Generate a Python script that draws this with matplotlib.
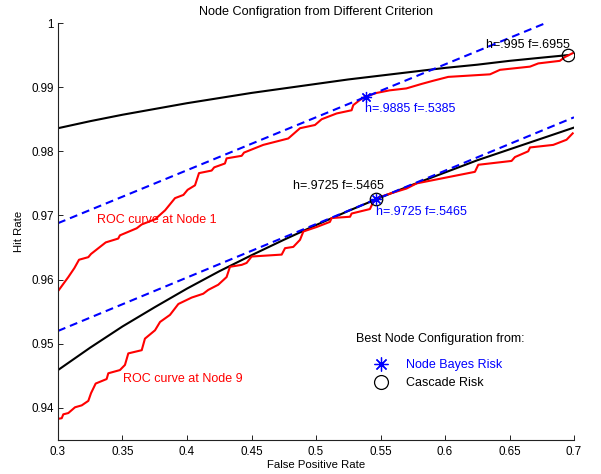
import matplotlib
matplotlib.use("Agg")
import matplotlib.pyplot as plt
from matplotlib.lines import Line2D
from matplotlib.ticker import FuncFormatter

plt.rcParams['font.family'] = ['Liberation Sans', 'DejaVu Sans']

# ROC curve at Node 1 (false positive rate, hit rate)
roc1_f = [0.300, 0.308, 0.3127, 0.3163, 0.3235, 0.3256, 0.3313, 0.337, 0.3467, 0.348,
          0.361, 0.3649, 0.3752, 0.383, 0.3907, 0.3972, 0.4005, 0.4062, 0.4093, 0.4191,
          0.4211, 0.4294, 0.4307, 0.4424, 0.4442, 0.4591, 0.4785, 0.4876, 0.4992, 0.5044,
          0.516, 0.5276, 0.5289, 0.534, 0.538, 0.547, 0.557, 0.570, 0.5818, 0.5909,
          0.6025, 0.6349, 0.6426, 0.6659, 0.6723, 0.689, 0.693, 0.699]
roc1_h = [0.9582, 0.9604, 0.9618, 0.9631, 0.9635, 0.9640, 0.9649, 0.9658, 0.9664, 0.9669,
          0.9680, 0.9686, 0.9694, 0.9708, 0.9727, 0.9732, 0.9740, 0.9747, 0.9766, 0.9770,
          0.9775, 0.9781, 0.9789, 0.9793, 0.9798, 0.9810, 0.9820, 0.9836, 0.9841, 0.9850,
          0.9859, 0.9864, 0.9872, 0.9880, 0.9885, 0.9891, 0.9895, 0.9898, 0.9905, 0.9910,
          0.9916, 0.9920, 0.9927, 0.9932, 0.9937, 0.9941, 0.9947, 0.9953]

# ROC curve at Node 9
roc9_f = [0.300, 0.3029, 0.3041, 0.308, 0.3132, 0.3184, 0.3235, 0.3256, 0.3292, 0.3377,
          0.339, 0.348, 0.3519, 0.3545, 0.3649, 0.3674, 0.3752, 0.3791, 0.3868, 0.3933,
          0.4036, 0.4126, 0.4165, 0.4242, 0.4307, 0.4333, 0.4424, 0.4462, 0.4501, 0.4734,
          0.476, 0.4824, 0.4876, 0.4902, 0.5005, 0.5108, 0.5121, 0.5264, 0.5276, 0.5418,
          0.5444, 0.547, 0.5573, 0.5702, 0.578, 0.6232, 0.6258, 0.6516, 0.6542, 0.6645,
          0.6659, 0.6839, 0.6942, 0.699]
roc9_h = [0.9383, 0.9384, 0.9390, 0.9392, 0.9401, 0.9404, 0.9411, 0.9423, 0.9438, 0.9445,
          0.9454, 0.9459, 0.9467, 0.9485, 0.9490, 0.9508, 0.9521, 0.9534, 0.9545, 0.9562,
          0.9572, 0.9578, 0.9584, 0.9592, 0.9604, 0.9620, 0.9623, 0.9626, 0.9636, 0.9639,
          0.9649, 0.9651, 0.9662, 0.9675, 0.9682, 0.9690, 0.9696, 0.9698, 0.9703, 0.9710,
          0.9721, 0.9727, 0.9734, 0.9742, 0.9750, 0.9768, 0.9779, 0.9785, 0.9791, 0.9800,
          0.9806, 0.9810, 0.9818, 0.9828]

# Cascade-risk iso curves (black)
iso1_f = [0.300, 0.325, 0.350, 0.375, 0.400, 0.425, 0.450, 0.475, 0.500, 0.525,
          0.550, 0.575, 0.600, 0.625, 0.650, 0.675, 0.6955]
iso1_h = [0.9836, 0.9847, 0.9857, 0.9866, 0.9875, 0.9883, 0.9891, 0.9898, 0.9905, 0.9912,
          0.9918, 0.9924, 0.9930, 0.9935, 0.9941, 0.9946, 0.9950]
iso9_f = [0.300, 0.325, 0.350, 0.375, 0.400, 0.425, 0.450, 0.475, 0.500, 0.525,
          0.550, 0.575, 0.600, 0.625, 0.650, 0.675, 0.700]
iso9_h = [0.9459, 0.9494, 0.9527, 0.9557, 0.9586, 0.9613, 0.9638, 0.9662, 0.9685, 0.9707,
          0.9728, 0.9748, 0.9767, 0.9786, 0.9803, 0.9820, 0.9837]

# Node Bayes risk lines (blue dashed)
bayes1_f = [0.30, 0.70]
bayes1_h = [0.9688, 1.0018]
bayes9_f = [0.30, 0.70]
bayes9_h = [0.9520, 0.9853]

# Best configurations
bayes_pts_f = [0.5385, 0.5465]
bayes_pts_h = [0.9885, 0.9725]
casc_pts_f = [0.6955, 0.5465]
casc_pts_h = [0.995, 0.9725]

xticks = [0.3, 0.35, 0.4, 0.45, 0.5, 0.55, 0.6, 0.65, 0.7]
yticks = [0.94, 0.95, 0.96, 0.97, 0.98, 0.99, 1.0]

fig = plt.figure(figsize=(6.01, 4.74), dpi=100)
ax = fig.add_axes([58/601, 34/474, 516/601, 417/474])

lw = 1.5
ax.plot(iso1_f, iso1_h, color='black', lw=lw)
ax.plot(iso9_f, iso9_h, color='black', lw=lw)
ax.plot(roc1_f, roc1_h, color='red', lw=lw)
ax.plot(roc9_f, roc9_h, color='red', lw=lw)
ax.plot(bayes1_f, bayes1_h, color='blue', lw=lw, dashes=(3.8, 2.4))
ax.plot(bayes9_f, bayes9_h, color='blue', lw=lw, dashes=(3.8, 2.4))

ax.plot(casc_pts_f, casc_pts_h, ls='none', marker='o', mfc='none', mec='black',
        ms=9, mew=0.9)
ax.plot(bayes_pts_f, bayes_pts_h, ls='none', marker=(8, 2, 0), color='blue',
        ms=8, mew=0.9)

fs = 9.0
ax.text(0.632, 0.99606, 'h=.995 f=.6955', color='black', fontsize=fs, va='baseline')
ax.text(0.5379, 0.98617, 'h=.9885 f=.5385', color='blue', fontsize=fs, va='baseline')
ax.text(0.4824, 0.97412, 'h=.9725 f=.5465', color='black', fontsize=fs, va='baseline')
ax.text(0.5465, 0.97007, 'h=.9725 f=.5465', color='blue', fontsize=fs, va='baseline')
ax.text(0.330, 0.96877, 'ROC curve at Node 1', color='red', fontsize=fs, va='baseline')
ax.text(0.3504, 0.94408, 'ROC curve at Node 9', color='red', fontsize=fs, va='baseline')

ax.text(0.740, 0.2422, 'Best Node Configuration from:', transform=ax.transAxes,
        ha='center', va='center', fontsize=fs)
handles = [Line2D([], [], ls='none', marker=(8, 2, 0), color='blue', ms=10, mew=0.9),
           Line2D([], [], ls='none', marker='o', mfc='none', mec='black', ms=10, mew=0.9)]
leg = ax.legend(handles, ['Node Bayes Risk', 'Cascade Risk'], frameon=False,
                loc='upper center', bbox_to_anchor=(0.732, 0.2206),
                fontsize=fs, labelspacing=0.45,
                handletextpad=1.0, handlelength=2.0, borderpad=0.4)
leg.get_texts()[0].set_color('blue')

ax.set_xlim(0.3, 0.7)
ax.set_ylim(0.935, 1.0)
ax.set_xticks(xticks)
ax.set_yticks(yticks)
fmt = FuncFormatter(lambda v, p: ('%g' % round(v, 4)))
ax.xaxis.set_major_formatter(fmt)
ax.yaxis.set_major_formatter(fmt)
ax.tick_params(direction='in', length=3.5, width=0.7, labelsize=8.4, color='#222222')
ax.tick_params(axis='x', pad=4)
ax.tick_params(axis='y', pad=3)
for s in ['top', 'right']:
    ax.spines[s].set_visible(False)
for s in ['left', 'bottom']:
    ax.spines[s].set_linewidth(0.8)
    ax.spines[s].set_color('#222222')

ax.set_title('Node Configration from Different Criterion', fontsize=9.1, pad=6)
ax.set_xlabel('False Positive Rate', fontsize=8.2, labelpad=2)
ax.set_ylabel('Hit Rate', fontsize=8.2, labelpad=5)

fig.savefig('out.png', dpi=100)
